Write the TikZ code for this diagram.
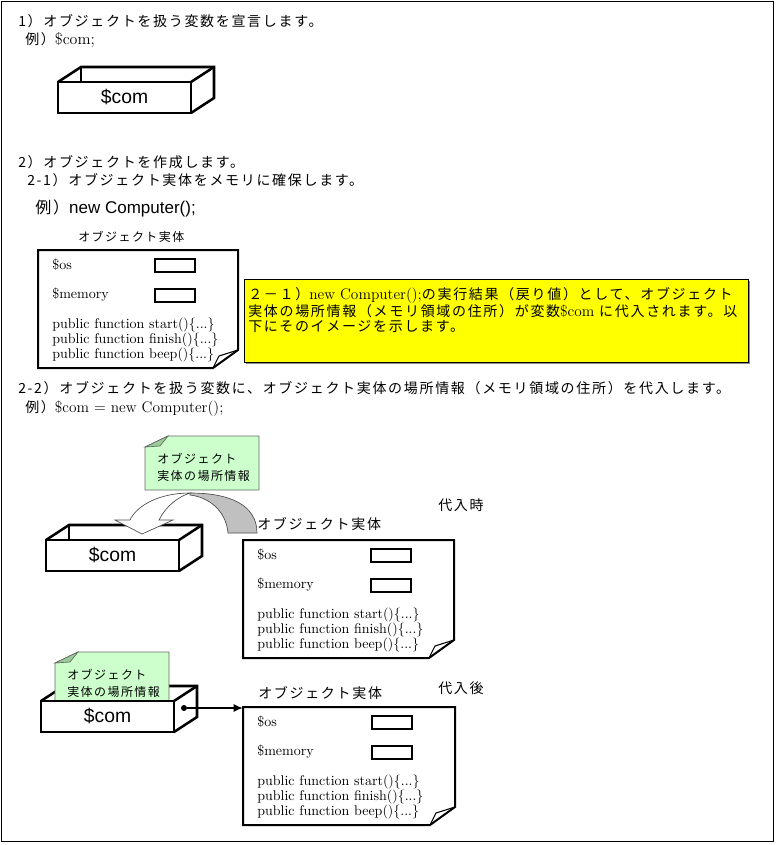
\documentclass[tikz,border=0pt]{standalone}
\usepackage{fontspec}
\setsansfont{Liberation Sans}
\newfontfamily\jp{Noto Sans CJK JP}[LetterSpace=12]
\usetikzlibrary{arrows.meta,shadows}

\definecolor{memoyellow}{RGB}{255,255,0}
\definecolor{notegreen}{RGB}{204,255,204}
\definecolor{flapgreen}{RGB}{153,204,153}
\definecolor{bandgray}{RGB}{192,192,192}

\tikzset{
  jptext/.style={anchor=west,font=\jp\fontsize{10.5}{14}\selectfont},
  jpsmall/.style={anchor=west,font=\jp\fontsize{9}{12.75}\selectfont,align=left},
  codetext/.style={anchor=west,font=\rmfamily\fontsize{10.5}{11.25}\selectfont,align=left},
  comtext/.style={font=\sffamily\fontsize{14.5}{16}\selectfont},
  boxline/.style={line width=1.9pt,line join=miter},
  objline/.style={line width=1.5pt},
  band/.style={draw=black!70,line width=0.5pt},
  memobox/.style={draw,fill=memoyellow,line width=0.9pt,drop shadow={shadow xshift=1.2pt,shadow yshift=-1.2pt,fill=black!45,opacity=1}},
  notebox/.style={draw=black!60,fill=notegreen,line width=0.5pt},
}

% 3D box for the variable: back edges first, front face later
\newcommand{\comback}[2]{%
  \draw [boxline] (#1,#2) -- ++(23,15) -- ++(133,0) -- ++(0,-31) -- ++(-23,-15);
  \draw [boxline] (#1+23,#2+15) -- ++(0,-15);
  \draw [boxline] (#1+133,#2) -- ++(23,15);
}
\newcommand{\comfront}[3]{%
  \draw [boxline,fill=white] (#2,#3) rectangle ++(133,-31);
  \node [comtext] (#1) at (#2+66.5,#3-15.5) {\$com};
}

% object entity (page with folded corner)
\newcommand{\objbox}[4]{%
  \coordinate (#1) at (#2,#3);
  \draw [objline,fill=white] (#2,#3) -- ++(#4,0) -- ++(0,-100) -- ++(-25,-18) -- ++(-#4+25,0) -- cycle;
  \draw [line width=0.8pt] (#2+#4-25,#3-118) -- ++(6,12) -- ++(19,6);
  \node [codetext] (#1os) at (#2+14,#3-15) {\$os};
  \draw [objline] (#2+#4-83,#3-9) rectangle ++(40,-13);
  \node [codetext] (#1mem) at (#2+14,#3-45) {\$memory};
  \draw [objline] (#2+#4-83,#3-39) rectangle ++(40,-13);
  \node [codetext] (#1fn) at (#2+14,#3-90) {public function start()\{...\}\\public function finish()\{...\}\\public function beep()\{...\}};
}

% green memo with the address
\newcommand{\locnote}[3]{%
  \draw [notebox] (#2,#3-11) -- (#2+23,#3) -- (#2+114,#3) -- (#2+114,#3-54) -- (#2,#3-54) -- cycle;
  \draw [notebox,fill=flapgreen] (#2,#3-11) -- (#2+23,#3) -- (#2+15,#3-10) -- cycle;
  \node [jpsmall] (#1) at (#2+12,#3-31) {オブジェクト\\実体の場所情報};
}

\begin{document}
\begin{tikzpicture}[x=0.75pt,y=0.75pt]
  \tikzstyle{every node}+=[inner sep=0pt]
  \useasboundingbox (0,0) rectangle (776,-845);
  \draw [line width=0.7pt] (1.5,-1.5) rectangle (773.5,-841.5);

  % 1)
  \node [jptext] (stepone) at (18,-21) {1）オブジェクトを扱う変数を宣言します。};
  \node [jptext] (steponeex) at (25,-40) {例）{\rmfamily\fontsize{12}{13}\selectfont\$com;}};
  \comback{58}{-82}
  \comfront{comA}{58}{-82}

  % 2) and 2-1)
  \node [jptext] (steptwo) at (18,-162) {2）オブジェクトを作成します。};
  \node [jptext] (stepalloc) at (27,-180) {2-1）オブジェクト実体をメモリに確保します。};
  \node [jptext] (stepallocex) at (35,-208) {\fontsize{12}{14}\selectfont 例）\sffamily\fontsize{12.75}{14}\selectfont new Computer();};
  \node [jpsmall] (lblA) at (78,-237) {オブジェクト実体};
  \objbox{objA}{38}{-250}{200}

  \node [memobox,minimum width=378pt,minimum height=62.25pt,anchor=north west] (memo) at (244,-279) {};
  \node [jptext,anchor=north west,align=left,font=\jp\fontsize{10.5}{11.6}\selectfont] (memotext) at (248,-287) {２－１）{\rmfamily\fontsize{11.5}{11.6}\selectfont new Computer();}の実行結果（戻り値）として、オブジェクト\\実体の場所情報（メモリ領域の住所）が変数{\rmfamily\fontsize{11.5}{11.6}\selectfont\$com} に代入されます。以\\下にそのイメージを示します。};

  % 2-2)
  \node [jptext] (stepassign) at (18,-388) {2-2）オブジェクトを扱う変数に、オブジェクト実体の場所情報（メモリ領域の住所）を代入します。};
  \node [jptext] (stepassignex) at (25,-408) {例）{\rmfamily\fontsize{11.5}{13}\selectfont\$com = new Computer();}};

  \comback{46}{-540}
  \comfront{comB}{46}{-540}
  \draw [band,fill=bandgray] (190,-493) .. controls (230,-493) and (257,-505) .. (257,-533) -- (228,-533) .. controls (226,-510) and (208,-497) .. (190,-495) -- cycle;
  \draw [band,fill=white] (190,-493) .. controls (160,-493) and (137,-505) .. (130,-520) -- (115,-520) -- (142,-534) -- (173,-520) -- (159,-520) .. controls (166,-506) and (178,-497) .. (190,-493) -- cycle;
  \locnote{locB}{145}{-436}
  \node [jptext] (lblB) at (257,-524) {オブジェクト実体};
  \node [jptext] (whenB) at (438,-505) {代入時};
  \objbox{objB}{243}{-540}{211}

  \comback{41}{-701}
  \locnote{locC}{55}{-652}
  \comfront{comC}{41}{-701}
  \node [jptext] (lblC) at (258,-693) {オブジェクト実体};
  \node [jptext] (whenC) at (438,-688) {代入後};
  \objbox{objC}{243}{-707}{212}
  \node [circle,fill,minimum size=4.5pt] (ptr) at (184,-708) {};
  \draw [line width=1.2pt,-{Latex[length=7pt,width=6pt]}] (ptr) -- (ptr -| objC);
\end{tikzpicture}
\end{document}
